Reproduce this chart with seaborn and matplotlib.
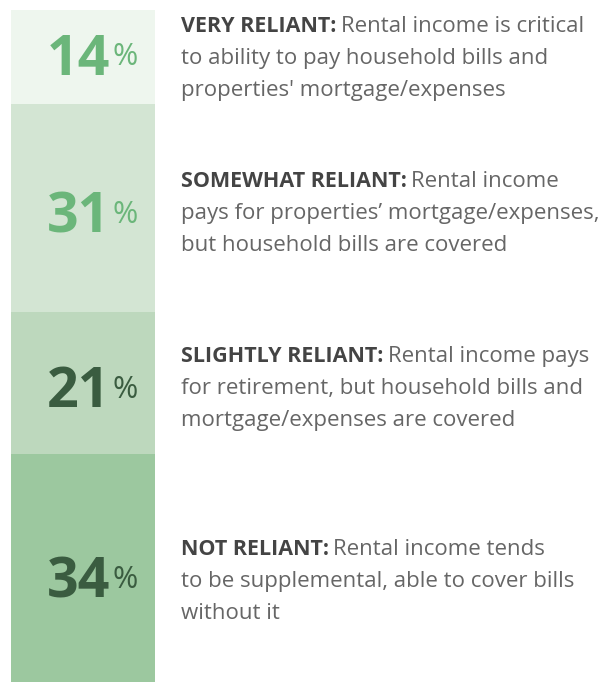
import numpy as np
import pandas as pd
import matplotlib
matplotlib.use("Agg")
import matplotlib.pyplot as plt
import matplotlib.transforms as mtransforms
import seaborn as sns

# data, top to bottom
shares = [14, 31, 21, 34]
labels = ["VERY RELIANT:", "SOMEWHAT RELIANT:", "SLIGHTLY RELIANT:", "NOT RELIANT:"]
lines = [
    ["Rental income is critical", "to ability to pay household bills and",
     "properties' mortgage/expenses"],
    ["Rental income", "pays for properties\u2019 mortgage/expenses,",
     "but household bills are covered"],
    ["Rental income pays", "for retirement, but household bills and",
     "mortgage/expenses are covered"],
    ["Rental income tends", "to be supplemental, able to cover bills",
     "without it"],
]
seg_colors = ["#EEF6EE", "#D3E5D3", "#BDD8BD", "#9CC89F"]
num_colors = ["#6BB67A", "#6BB67A", "#3A5C40", "#3A5C40"]

sns.set_theme(style="white")
plt.rcParams["font.family"] = ["Open Sans", "DejaVu Sans"]

fig = plt.figure(figsize=(6.15, 6.82), dpi=100)
ax = fig.add_axes([11 / 615, 0, 144 / 615, 672 / 682])

# stacked bar: draw cumulative heights, largest first so smaller ones sit on top
cum = np.cumsum(shares)
df = pd.DataFrame({"g": ["x"] * len(shares), "cum": cum})
for i in reversed(range(len(shares))):
    sns.barplot(data=df.iloc[[i]], x="g", y="cum", color=seg_colors[i],
                width=1.0, saturation=1, ax=ax, linewidth=0)
ax.set_ylim(100, 0)
ax.set_xlim(-0.5, 0.5)
ax.axis("off")

ytrans = ax.get_yaxis_transform()
text_x = (181 - 11) / 144
text_nudge = [1, 5, 6, 14]  # px offsets (down) of text blocks from segment centres
num_nudge = [3, 10, 10, 15]
lead = 32
body = dict(fontsize=16, color="#666666")

fig.canvas.draw()
for i, s in enumerate(shares):
    mid = cum[i] - s / 2
    t_num = mtransforms.offset_copy(ytrans, fig=fig, x=0, y=-num_nudge[i], units="dots")
    ax.text(99 / 144, mid, str(s), transform=t_num, ha="right", va="center",
            fontsize=40, fontweight="bold", color=num_colors[i])
    t_pct = mtransforms.offset_copy(ytrans, fig=fig, x=0, y=-(num_nudge[i] - 3), units="dots")
    ax.text(101 / 144, mid, "%", transform=t_pct, ha="left", va="center",
            fontsize=22, color=num_colors[i])

    for j in range(3):
        off = -(text_nudge[i] + (j - 1) * lead)
        tr = mtransforms.offset_copy(ytrans, fig=fig, x=0, y=off, units="dots")
        if j == 0:
            b = ax.text(text_x, mid, labels[i], transform=tr, ha="left", va="center",
                        fontsize=15.5, fontweight="bold", color="#444444")
            ax.annotate(lines[i][0], xy=(1, 0), xycoords=b, xytext=(3, 0),
                        textcoords="offset points", ha="left", va="bottom", **body)
        else:
            ax.text(text_x, mid, lines[i][j], transform=tr, ha="left", va="center", **body)

fig.savefig("out.png", dpi=100)
